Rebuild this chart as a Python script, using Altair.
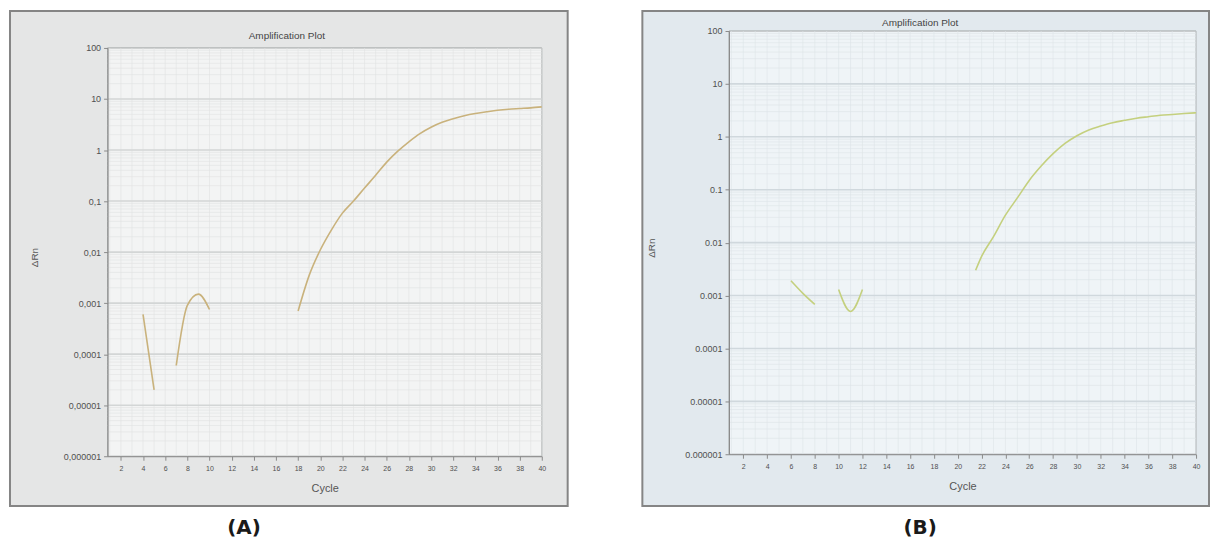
import altair as alt
import pandas as pd

# ---------------- data ----------------
# Panel (A)
a_seg1_cycle = [4, 5]
a_seg1_drn = [0.0006, 0.00002]
a_seg2_cycle = [7, 8, 9, 10]
a_seg2_drn = [0.00006, 0.0009, 0.0015, 0.00075]
a_seg3_cycle = [18, 19, 20, 21, 22, 23, 24, 25, 26, 27, 28, 29, 30, 31, 32, 33, 34, 35, 36, 37, 38, 39, 40]
a_seg3_drn = [0.0007, 0.0035, 0.011, 0.027, 0.058, 0.1, 0.18, 0.32, 0.58, 0.95, 1.45, 2.1, 2.8,
              3.5, 4.1, 4.7, 5.2, 5.6, 6.0, 6.3, 6.5, 6.7, 7.0]

# Panel (B)
b_seg1_cycle = [6, 7, 8]
b_seg1_drn = [0.0019, 0.0011, 0.00068]
b_seg2_cycle = [10, 11, 12]
b_seg2_drn = [0.0013, 0.0005, 0.0013]
b_seg3_cycle = [21.5, 22, 23, 24, 25, 26, 27, 28, 29, 30, 31, 32, 33, 34, 35, 36, 37, 38, 39, 40]
b_seg3_drn = [0.003, 0.0055, 0.013, 0.033, 0.07, 0.15, 0.28, 0.48, 0.75, 1.05, 1.35, 1.6,
              1.85, 2.05, 2.25, 2.4, 2.55, 2.65, 2.75, 2.85]

# axis ticks / labels
y_ticks = [0.000001, 0.00001, 0.0001, 0.001, 0.01, 0.1, 1, 10, 100]
a_y_labels = ["0,000001", "0,00001", "0,0001", "0,001", "0,01", "0,1", "1", "10", "100"]
b_y_labels = ["0.000001", "0.00001", "0.0001", "0.001", "0.01", "0.1", "1", "10", "100"]
x_ticks = [2, 4, 6, 8, 10, 12, 14, 16, 18, 20, 22, 24, 26, 28, 30, 32, 34, 36, 38, 40]
x_label = "Cycle"
y_label = "ΔRn"
plot_title = "Amplification Plot"

# grid lines (chart furniture)
grid_cycles = list(range(1, 41))
grid_major = [0.00001, 0.0001, 0.001, 0.01, 0.1, 1, 10]
grid_minor = [d * m for m in [0.000001, 0.00001, 0.0001, 0.001, 0.01, 0.1, 1, 10] for d in range(2, 10)]

FONT = "Liberation Sans"


def label_expr(ticks, labels):
    expr = "'" + labels[-1] + "'"
    for t, lab in reversed(list(zip(ticks[:-1], labels[:-1]))):
        expr = f"datum.value < {t * 3} ? '{lab}' : ({expr})"
    return expr


def make_df(segs):
    rows = []
    for i, (cyc, val) in enumerate(segs):
        for c, v in zip(cyc, val):
            rows.append({"cycle": c, "drn": v, "seg": f"s{i}"})
    return pd.DataFrame(rows)


def panel(segs, line_color, ylabels, letter, W, H, t, frame, title_xy, letter_xy,
          ytitle_x, plot_bg, frame_bg, grid_minor_color, grid_major_color):
    """t = vertical offset of the plot area below the shared row origin."""
    one = alt.Data(values=[{"k": 1}])
    xscale = alt.Scale(type="linear", domain=[0.8, 40], nice=False, zero=False)
    yscale = alt.Scale(type="log", domain=[0.000001, 100], nice=False, range=[t + H, t])

    xaxis = alt.Axis(values=x_ticks, format="d", grid=False, zindex=1,
                     tickSize=4, tickColor="#8a8a8a", domainColor="#8a8a8a",
                     labelFontSize=7, labelColor="#505050", labelFont=FONT,
                     labelPadding=4, labelFlush=False,
                     titleFont=FONT, titleFontSize=11, titleFontWeight="normal",
                     titleColor="#555555", titlePadding=11)
    yaxis = alt.Axis(values=y_ticks, labelExpr=label_expr(y_ticks, ylabels),
                     grid=False, zindex=1, tickSize=4, tickColor="#8a8a8a",
                     domainColor="#8a8a8a", labelFontSize=9, labelColor="#505050",
                     labelFont=FONT, labelPadding=3, labelFlush=False,
                     titleFont=FONT, titleFontSize=10, titleFontWeight="normal",
                     titleColor="#555555", titleX=ytitle_x, titleY=t + H / 2 + 5,
                     titleAngle=270)

    fx1, fx2, fy1, fy2 = frame
    frame_rect = alt.Chart(one).mark_rect(
        fill=frame_bg, stroke="#858585", strokeWidth=2
    ).encode(x=alt.value(fx1), x2=alt.value(fx2), y=alt.value(fy1), y2=alt.value(fy2))

    plot_rect = alt.Chart(one).mark_rect(
        fill=plot_bg, stroke="#a0a3a3", strokeWidth=1
    ).encode(x=alt.value(0), x2=alt.value(W), y=alt.value(t), y2=alt.value(t + H))

    vgrid = alt.Chart(pd.DataFrame({"gx": grid_cycles})).mark_rule(
        color=grid_minor_color, strokeWidth=0.6
    ).encode(x=alt.X("gx:Q", scale=xscale, axis=xaxis, title=x_label),
             y=alt.value(t), y2=alt.value(t + H))

    hminor = alt.Chart(pd.DataFrame({"gy": grid_minor})).mark_rule(
        color=grid_minor_color, strokeWidth=0.6
    ).encode(y=alt.Y("gy:Q", scale=yscale, axis=yaxis, title=y_label))

    hmajor = alt.Chart(pd.DataFrame({"gy": grid_major})).mark_rule(
        color=grid_major_color, strokeWidth=1.6
    ).encode(y=alt.Y("gy:Q", scale=yscale, axis=yaxis, title=y_label))

    df = make_df(segs)
    line = alt.Chart(df).mark_line(
        color=line_color, strokeWidth=1.6, interpolate="monotone"
    ).encode(
        x=alt.X("cycle:Q", scale=xscale, axis=xaxis, title=x_label),
        y=alt.Y("drn:Q", scale=yscale, axis=yaxis, title=y_label),
        detail="seg:N",
    )

    title_txt = alt.Chart(one).mark_text(
        font=FONT, fontSize=10, color="#444444", align="center", baseline="middle"
    ).encode(x=alt.value(title_xy[0]), y=alt.value(title_xy[1]), text=alt.value(plot_title))

    letter_txt = alt.Chart(one).mark_text(
        font="DejaVu Sans", fontSize=20, fontWeight="bold", color="#1a1a1a",
        align="center", baseline="middle"
    ).encode(x=alt.value(letter_xy[0]), y=alt.value(letter_xy[1]), text=alt.value(letter))

    return alt.layer(frame_rect, plot_rect, vgrid, hminor, hmajor, line, title_txt, letter_txt
                     ).properties(width=W, height=t + H)


# shared row origin sits at page y = 28 (plot top of panel B)
WA, HA, TA = 436, 410, 17
panel_a = panel(
    [(a_seg1_cycle, a_seg1_drn), (a_seg2_cycle, a_seg2_drn), (a_seg3_cycle, a_seg3_drn)],
    "#c9b27c", a_y_labels, "(A)", WA, HA, TA,
    frame=(-98, WA + 26, -20, 477), title_xy=(180, 5), letter_xy=(137, 499),
    ytitle_x=-68, plot_bg="#f3f4f4", frame_bg="#e5e6e6",
    grid_minor_color="#e0e2e2", grid_major_color="#d3d6d6",
)

WB, HB, TB = 469, 425, 0
panel_b = panel(
    [(b_seg1_cycle, b_seg1_drn), (b_seg2_cycle, b_seg2_drn), (b_seg3_cycle, b_seg3_drn)],
    "#c4d07e", b_y_labels, "(B)", WB, HB, TB,
    frame=(-87, WB + 13, -20, 477), title_xy=(192, -8), letter_xy=(192, 499),
    ytitle_x=-73, plot_bg="#eff4f7", frame_bg="#e2e9ee",
    grid_minor_color="#dde4e8", grid_major_color="#d0d8dd",
)

chart = alt.hconcat(panel_a, panel_b, spacing=71).properties(
    padding=0, background="#ffffff"
).configure_view(stroke="transparent")

chart.save("out.html", embed_options={"renderer": "svg", "actions": False})
